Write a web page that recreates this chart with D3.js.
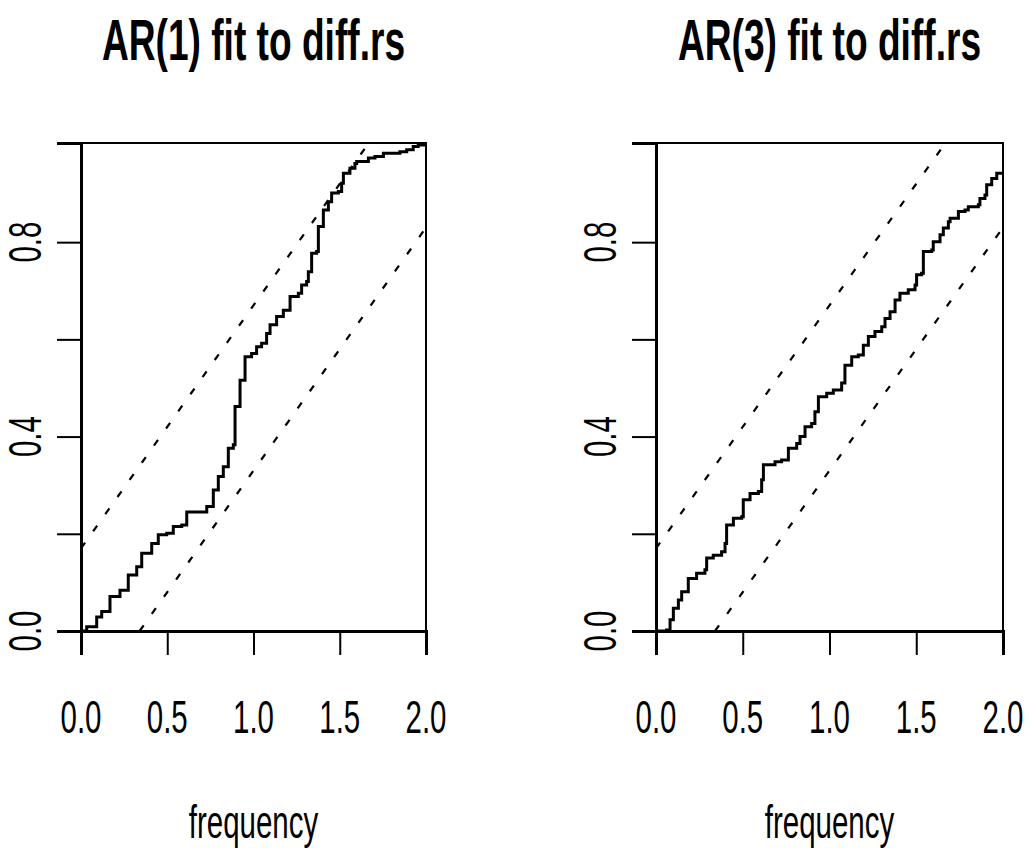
<!DOCTYPE html>
<html>
<head>
<meta charset="utf-8">
<script src="https://cdn.jsdelivr.net/npm/d3@7/dist/d3.min.js"></script>
<style>
    html, body { margin: 0; padding: 0; background: #fff; }
    svg { display: block; }
    text { font-family: "Liberation Sans", Arial, sans-serif; fill: #000; }
</style>
</head>
<body>
<div id="chart"></div>
<script>
(function () {
    'use strict';

    // panel titles
    var titles = ['AR(1) fit to diff.rs', 'AR(3) fit to diff.rs'];

    var xTicks = [0, 0.5, 1, 1.5, 2];
    var xTickLabels = ['0.0', '0.5', '1.0', '1.5', '2.0'];
    var yTicks = [0, 0.2, 0.4, 0.6, 0.8];
    var yTickLabels = ['0.0', '', '0.4', '', '0.8'];

    // cumulative periodogram of the AR(1) residuals
    var ar1Freq = [0.000, 0.033, 0.091, 0.120, 0.168, 0.226, 0.274, 0.323, 0.352, 0.410,
        0.448, 0.497, 0.535, 0.584, 0.613, 0.700, 0.729, 0.767, 0.796, 0.825,
        0.854, 0.883, 0.893, 0.922, 0.951, 0.989, 1.018, 1.047, 1.076, 1.096,
        1.134, 1.173, 1.212, 1.260, 1.279, 1.308, 1.318, 1.337, 1.366, 1.376,
        1.405, 1.434, 1.453, 1.492, 1.511, 1.521, 1.559, 1.588, 1.598, 1.666,
        1.704, 1.753, 1.849, 1.888, 1.926, 1.955, 2.000];
    var ar1Cum = [0.000, 0.009, 0.029, 0.040, 0.071, 0.084, 0.115, 0.132, 0.160, 0.180,
        0.198, 0.201, 0.215, 0.218, 0.245, 0.245, 0.256, 0.290, 0.318, 0.338,
        0.376, 0.383, 0.462, 0.516, 0.564, 0.571, 0.585, 0.592, 0.612, 0.630,
        0.647, 0.660, 0.688, 0.695, 0.712, 0.719, 0.739, 0.777, 0.781, 0.832,
        0.866, 0.883, 0.901, 0.904, 0.921, 0.942, 0.952, 0.962, 0.966, 0.973,
        0.976, 0.983, 0.986, 0.990, 0.997, 1.000, 1.000];

    // cumulative periodogram of the AR(3) residuals
    var ar3Freq = [0.000, 0.061, 0.081, 0.100, 0.129, 0.148, 0.186, 0.234, 0.282, 0.292,
        0.330, 0.378, 0.398, 0.407, 0.446, 0.494, 0.503, 0.542, 0.590, 0.609,
        0.619, 0.686, 0.724, 0.763, 0.811, 0.830, 0.859, 0.897, 0.916, 0.936,
        0.984, 1.022, 1.070, 1.089, 1.128, 1.166, 1.195, 1.224, 1.262, 1.301,
        1.320, 1.349, 1.378, 1.406, 1.454, 1.493, 1.502, 1.531, 1.541, 1.589,
        1.598, 1.637, 1.656, 1.685, 1.695, 1.743, 1.781, 1.800, 1.858, 1.867,
        1.896, 1.906, 1.935, 1.964, 2.000];
    var ar3Cum = [0.000, 0.002, 0.023, 0.047, 0.064, 0.081, 0.108, 0.119, 0.126, 0.150,
        0.156, 0.163, 0.180, 0.218, 0.232, 0.235, 0.270, 0.283, 0.287, 0.311,
        0.342, 0.348, 0.352, 0.376, 0.386, 0.400, 0.420, 0.427, 0.451, 0.482,
        0.489, 0.496, 0.510, 0.547, 0.564, 0.568, 0.588, 0.606, 0.616, 0.626,
        0.643, 0.657, 0.681, 0.695, 0.702, 0.712, 0.733, 0.736, 0.781, 0.784,
        0.801, 0.815, 0.829, 0.842, 0.849, 0.863, 0.866, 0.873, 0.877, 0.890,
        0.897, 0.918, 0.931, 0.942, 0.945];

    // 95% band of the cumulative periodogram (same for both fits)
    var upperBand = [[0, 0.17], [1.66, 1.0]];
    var lowerBand = [[0.34, 0], [2, 0.83]];

    var panels = [
        { title: titles[0], freq: ar1Freq, cum: ar1Cum, left: 81, right: 426 },
        { title: titles[1], freq: ar3Freq, cum: ar3Cum, left: 656, right: 1003 }
    ];

    var W = 1034, H = 848;
    var top = 143, bottom = 631;
    var squeeze = 0.64;      // the original uses a narrow face

    var svg = d3.select('#chart').append('svg')
        .attr('width', W)
        .attr('height', H);

    function narrowText(g, x, y, str, size, weight, rotate) {
        return g.append('text')
            .attr('transform', 'translate(' + x + ',' + y + ')' +
                (rotate ? ' rotate(' + rotate + ')' : '') + ' scale(' + squeeze + ',1)')
            .attr('text-anchor', 'middle')
            .style('font-size', size + 'px')
            .style('font-weight', weight || 'normal')
            .text(str);
    }

    panels.forEach(function (p, idx) {
        var g = svg.append('g');

        var x = d3.scaleLinear().domain([0, 2]).range([p.left, p.right]);
        var y = d3.scaleLinear().domain([0, 1.004]).range([bottom, top]);

        var clipId = 'clip' + idx;
        svg.append('clipPath').attr('id', clipId)
            .append('rect')
            .attr('x', p.left).attr('y', top)
            .attr('width', p.right - p.left).attr('height', bottom - top);

        // band lines
        var band = d3.line()
            .x(function (d) { return x(d[0]); })
            .y(function (d) { return y(d[1]); });

        [upperBand, lowerBand].forEach(function (b) {
            g.append('path')
                .attr('d', band(b))
                .attr('clip-path', 'url(#' + clipId + ')')
                .attr('fill', 'none')
                .attr('stroke', '#000')
                .attr('stroke-width', 2.2)
                .attr('stroke-dasharray', '7,14');
        });

        // step curve
        var pts = p.freq.map(function (f, i) { return [f, p.cum[i]]; });
        var step = d3.line()
            .x(function (d) { return x(d[0]); })
            .y(function (d) { return y(d[1]); })
            .curve(d3.curveStepAfter);

        g.append('path')
            .attr('d', step(pts))
            .attr('clip-path', 'url(#' + clipId + ')')
            .attr('fill', 'none')
            .attr('stroke', '#000')
            .attr('stroke-width', 3);

        // box
        g.append('rect')
            .attr('x', p.left).attr('y', top)
            .attr('width', p.right - p.left).attr('height', bottom - top)
            .attr('fill', 'none')
            .attr('stroke', '#000')
            .attr('stroke-width', 2);

        // x axis
        var xAxis = d3.axisBottom(x)
            .tickValues(xTicks)
            .tickSize(24)
            .tickFormat('');
        var gx = g.append('g')
            .attr('transform', 'translate(0,' + bottom + ')')
            .call(xAxis);
        gx.select('.domain').attr('stroke-width', 3);
        gx.selectAll('.tick line').attr('stroke-width', 2);

        xTicks.forEach(function (t, i) {
            narrowText(g, x(t), 733, xTickLabels[i], 46);
        });

        // y axis
        var yAxis = d3.axisLeft(y)
            .tickValues(yTicks)
            .tickSize(24)
            .tickFormat('');
        var gy = g.append('g')
            .attr('transform', 'translate(' + p.left + ',0)')
            .call(yAxis);
        gy.select('.domain').attr('stroke-width', 3);
        gy.selectAll('.tick line').attr('stroke-width', 2);

        yTicks.forEach(function (t, i) {
            if (yTickLabels[i]) {
                narrowText(g, p.left - 40, y(t), yTickLabels[i], 46, 'normal', -90);
            }
        });

        var cx = (p.left + p.right) / 2;
        narrowText(g, cx, 838, 'frequency', 46);
        narrowText(g, cx, 60, p.title, 58, 'bold');
    });
}());
</script>
</body>
</html>
